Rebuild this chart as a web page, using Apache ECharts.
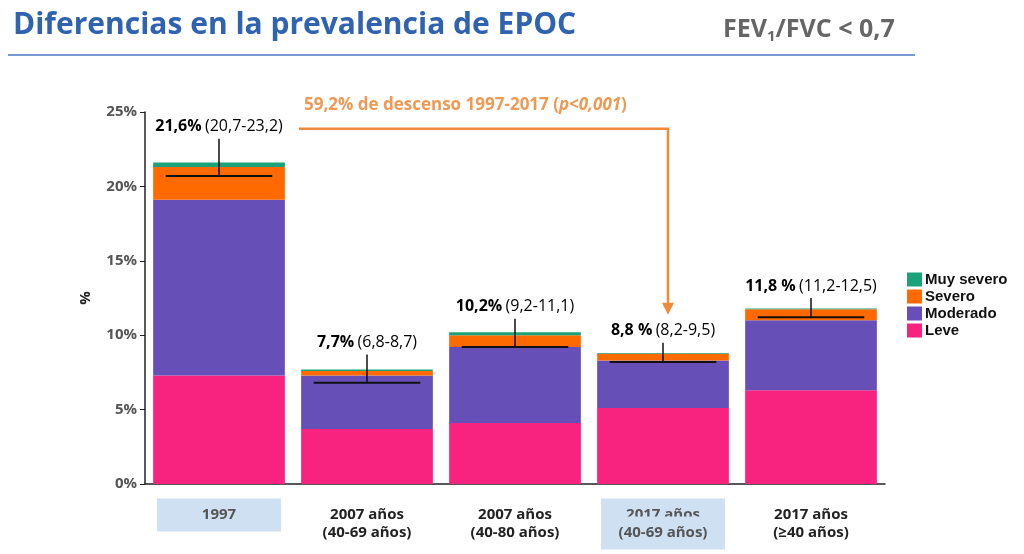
<!DOCTYPE html>
<html>
<head>
  <meta charset="utf-8">
  <script src="https://cdn.jsdelivr.net/npm/echarts@6/dist/echarts.min.js"></script>
</head>
<style>
  * { padding: 0; margin: 0; }
  #main { width: 1024px; height: 554px; background: #fff; }
</style>
<body>
  <div id="main"></div>
  <script type="text/javascript">
    // datos
    var categories = ['1997', '2007 años\n(40-69 años)', '2007 años\n(40-80 años)', '2017 años\n(40-69 años)', '2017 años\n(≥40 años)'];
    var highlighted = [true, false, false, true, false];
    var leve = [7.3, 3.7, 4.1, 5.1, 6.3];
    var moderado = [11.8, 3.6, 5.1, 3.2, 4.7];
    var severo = [2.2, 0.3, 0.8, 0.45, 0.75];
    var muySevero = [0.3, 0.1, 0.2, 0.05, 0.05];
    var ciLow = [20.7, 6.8, 9.2, 8.2, 11.2];
    var ciHigh = [23.2, 8.7, 11.1, 9.5, 12.5];
    var totals = ['21,6%', '7,7%', '10,2%', '8,8 %', '11,8 %'];
    var ciText = ['(20,7-23,2)', '(6,8-8,7)', '(9,2-11,1)', '(8,2-9,5)', '(11,2-12,5)'];

    var myChart = echarts.init(document.getElementById('main'));
    var font = 'Open Sans, Liberation Sans, sans-serif';

    function barSeries(name, data, color) {
      return { name: name, type: 'bar', stack: 'a', data: data, barWidth: '89%', itemStyle: { color: color } };
    }

    var option = {
      animation: false,
      textStyle: { fontFamily: font },
      title: [
        { text: 'Diferencias en la prevalencia de EPOC', left: 8, top: 5,
          textStyle: { color: '#2f62b0', fontSize: 30, fontWeight: 'bold', fontFamily: font } },
        { text: '{a|FEV}{s|1}{a|/FVC < 0,7}', left: 718, top: 10,
          textStyle: { rich: {
            a: { color: '#666', fontSize: 25, fontWeight: 'bold', fontFamily: font },
            s: { color: '#666', fontSize: 15, fontWeight: 'bold', fontFamily: font, padding: [14, 0, 0, 0] } } } }
      ],
      legend: {
        data: ['Muy severo', 'Severo', 'Moderado', 'Leve'],
        orient: 'vertical', left: 902, top: 267, itemGap: 2, itemWidth: 15, itemHeight: 14,
        icon: 'rect',
        textStyle: { fontSize: 15, fontWeight: 'bold', color: '#111', fontFamily: 'Liberation Sans, sans-serif', padding: [0, 0, 0, -2] }
      },
      grid: { left: 145, right: 139, top: 112, bottom: 70 },
      xAxis: {
        type: 'category', data: categories,
        axisLine: { lineStyle: { color: '#222', width: 1.5 } },
        axisTick: { lineStyle: { color: '#222' } },
        axisLabel: {
          interval: 0, margin: 22,
          formatter: function (v, i) { return highlighted[i] ? '{h|' + v + '}' : '{n|' + v + '}'; },
          rich: {
            h: { fontSize: 15, fontWeight: 'bold', color: '#555', lineHeight: 18, align: 'center',
                 backgroundColor: '#cfe0f3', padding: [9, 18, 9, 18], width: 88 },
            n: { fontSize: 15, fontWeight: 'bold', color: '#222', lineHeight: 18, align: 'center' }
          }
        }
      },
      yAxis: {
        type: 'value', min: 0, max: 25, interval: 5,
        name: '%', nameLocation: 'middle', nameGap: 52, nameRotate: 90,
        nameTextStyle: { fontSize: 15, fontWeight: 'bold', color: '#222' },
        axisLine: { show: true, lineStyle: { color: '#222', width: 1.5 } },
        axisTick: { show: true },
        splitLine: { show: false },
        axisLabel: { formatter: '{value}%', fontSize: 15, fontWeight: 'bold', color: '#555' }
      },
      series: [
        barSeries('Leve', leve, '#f7237f'),
        barSeries('Moderado', moderado, '#6650b8'),
        barSeries('Severo', severo, '#ff6a00'),
        barSeries('Muy severo', muySevero, '#1aa37a'),
        {
          type: 'custom', z: 10,
          data: ciLow.map(function (v, i) { return [i, v, ciHigh[i]]; }),
          renderItem: function (params, api) {
            var lo = api.coord([api.value(0), api.value(1)]);
            var hi = api.coord([api.value(0), api.value(2)]);
            var w = api.size([1, 0])[0] * 0.72;
            var i = params.dataIndex;
            return { type: 'group', children: [
              { type: 'line', shape: { x1: lo[0] - w / 2, y1: lo[1], x2: lo[0] + w / 2, y2: lo[1] }, style: { stroke: '#111', lineWidth: 2 } },
              { type: 'line', shape: { x1: lo[0], y1: lo[1], x2: hi[0], y2: hi[1] }, style: { stroke: '#111', lineWidth: 1.5 } },
              { type: 'text', x: hi[0], y: hi[1] - 4, style: {
                  text: '{b|' + totals[i] + '} {r|' + ciText[i] + '}', align: 'center', verticalAlign: 'bottom',
                  rich: { b: { fontSize: 16, fontWeight: 'bold', fill: '#000', fontFamily: font },
                          r: { fontSize: 16, fill: '#000', fontFamily: font } } } }
            ] };
          }
        }
      ]
    };
    myChart.setOption(option);

    // flecha de descenso
    var p0 = myChart.convertToPixel({ gridIndex: 0 }, [0, ciHigh[0]]);
    var p1 = myChart.convertToPixel({ gridIndex: 0 }, [3, ciHigh[3]]);
    var yTop = p0[1] - 10;
    var yEnd = p1[1] - 28;
    myChart.setOption({
      graphic: [
        { type: 'line', shape: { x1: 8, y1: 55, x2: 915, y2: 55 }, style: { stroke: '#4a78c2', lineWidth: 1.5 } },
        { type: 'polyline', shape: { points: [[p0[0] + 80, yTop], [p1[0] + 5, yTop], [p1[0] + 5, yEnd - 10]] },
          style: { stroke: '#ee8a3a', lineWidth: 2.5, fill: null } },
        { type: 'polygon', shape: { points: [[p1[0] - 1, yEnd - 12], [p1[0] + 11, yEnd - 12], [p1[0] + 5, yEnd]] },
          style: { fill: '#ee8a3a' } },
        { type: 'text', x: p0[0] + 85, y: yTop - 32, style: {
            text: '{a|59,2% de descenso 1997-2017 (}{i|p<0,001}{a|)}',
            rich: { a: { fontSize: 17, fontWeight: 'bold', fill: '#ee9a55', fontFamily: font },
                    i: { fontSize: 17, fontWeight: 'bold', fontStyle: 'italic', fill: '#ee9a55', fontFamily: font } } } }
      ]
    });
  </script>
</body>
</html>
